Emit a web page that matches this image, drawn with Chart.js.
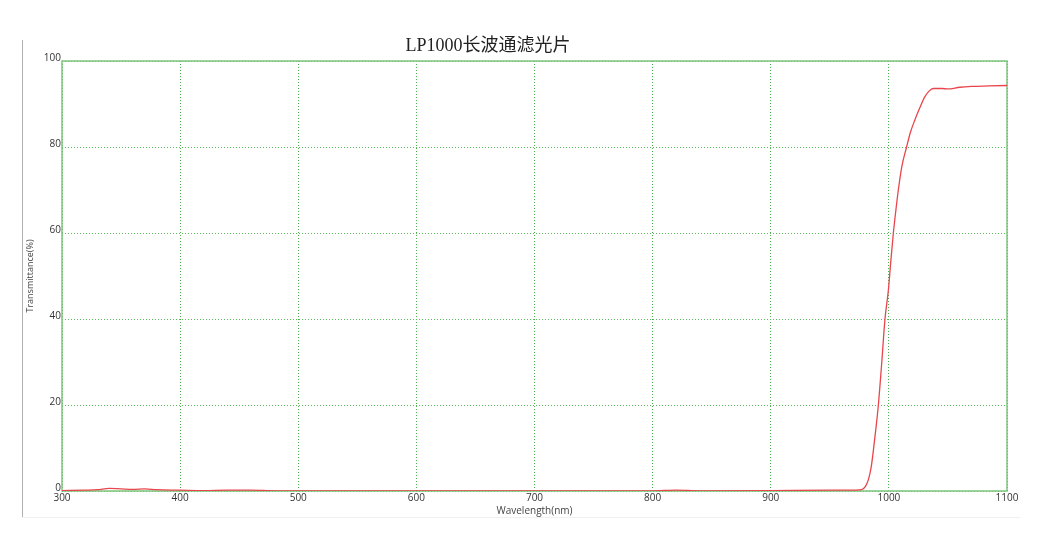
<!DOCTYPE html>
<html>
<head>
<meta charset="utf-8">
<script src="https://cdn.jsdelivr.net/npm/chart.js@4.4.1/dist/chart.umd.min.js"></script>
<style>
  body { margin: 0; background: #fff; }
  canvas { display: block; }
</style>
</head>
<body>
<canvas id="myChart" width="1042" height="559"></canvas>
<script>
// wavelength in nm, transmittance in %
const wavelength = [300, 320, 330, 340, 350, 360, 370, 380, 400, 420, 440, 460, 480, 500, 600, 700, 800, 820, 840, 900, 950, 965, 972, 977, 980, 982.6, 985, 986.9, 989, 991.1, 994, 996.7, 999.5, 1001.5, 1003.8, 1006, 1008, 1011, 1015, 1018, 1022, 1026, 1030.5, 1034, 1037.6, 1045, 1050, 1060, 1070, 1085, 1100];
const transmittance = [0.1, 0.2, 0.3, 0.6, 0.5, 0.4, 0.5, 0.3, 0.2, 0.1, 0.2, 0.2, 0.05, 0.05, 0.05, 0.05, 0.05, 0.2, 0.05, 0.1, 0.2, 0.2, 0.2, 0.3, 1.0, 2.6, 5.5, 9.5, 14.5, 20, 30, 40, 46.5, 53, 60, 65.5, 70, 75.5, 80, 83.2, 86.3, 89, 91.7, 93, 93.6, 93.6, 93.5, 93.9, 94.1, 94.2, 94.3];
const yTicks = [0, 20, 40, 60, 80, 100];
const xTicks = [300, 400, 500, 600, 700, 800, 900, 1000, 1100];

const titleText = 'LP1000长波通滤光片';

const points = wavelength.map((w, i) => ({ x: w, y: transmittance[i] }));

// frame, title, gray outer lines
const decor = {
  id: 'decor',
  beforeDatasetsDraw(chart) {
    const c = chart.ctx, a = chart.chartArea;
    c.save();
    c.strokeStyle = '#b0b0b0';
    c.lineWidth = 1;
    c.beginPath();
    c.moveTo(22.5, 40);
    c.lineTo(22.5, 517);
    c.stroke();
    c.strokeStyle = '#f0f0f0';
    c.beginPath();
    c.moveTo(22, 517.5);
    c.lineTo(1020, 517.5);
    c.stroke();
    c.strokeStyle = '#7cc47c';
    c.lineWidth = 1.5;
    c.strokeRect(a.left, a.top, a.right - a.left, a.bottom - a.top);
    c.restore();
  },
  afterDraw(chart) {
    const c = chart.ctx;
    c.save();
    c.fillStyle = '#222';
    c.font = '18px "Liberation Serif", "Noto Sans CJK SC", serif';
    c.textAlign = 'center';
    c.textBaseline = 'middle';
    c.fillText(titleText, 488, 46);
    c.restore();
  }
};

new Chart(document.getElementById('myChart'), {
  type: 'line',
  data: {
    datasets: [{
      data: points,
      borderColor: '#e8464c',
      borderWidth: 1.3,
      pointRadius: 0,
      cubicInterpolationMode: 'monotone',
      fill: false
    }]
  },
  options: {
    responsive: false,
    animation: false,
    layout: { padding: { left: 25, right: 35, top: 61, bottom: 42 } },
    plugins: { legend: { display: false }, tooltip: { enabled: false } },
    scales: {
      x: {
        type: 'linear',
        min: 300,
        max: 1100,
        afterBuildTicks: (s) => { s.ticks = xTicks.map(v => ({ value: v })); },
        afterFit: (s) => { s.height = 26; },
        grid: { color: '#4cad4c', lineWidth: 1, drawTicks: false, tickLength: 0 },
        border: { display: false, dash: [1, 2] },
        ticks: { color: '#333', font: { size: 10, family: 'Open Sans' }, padding: 1, maxRotation: 0, callback: (v) => String(v) },
        title: { display: true, text: 'Wavelength(nm)', color: '#444', font: { size: 10, family: 'Open Sans' }, padding: { top: 0, bottom: 0 } }
      },
      y: {
        min: 0,
        max: 100,
        afterBuildTicks: (s) => { s.ticks = yTicks.map(v => ({ value: v })); },
        afterFit: (s) => { s.width = 37; },
        grid: { color: '#5cb85c', lineWidth: 1, drawTicks: false, tickLength: 0 },
        border: { display: false, dash: [1, 2] },
        ticks: { color: '#333', font: { size: 10, family: 'Open Sans' }, padding: 1, labelOffset: -3 },
        title: { display: true, text: 'Transmittance(%)', color: '#444', font: { size: 9, family: 'Open Sans' }, padding: { top: 0, bottom: 0 } }
      }
    }
  },
  plugins: [decor]
});
</script>
</body>
</html>
